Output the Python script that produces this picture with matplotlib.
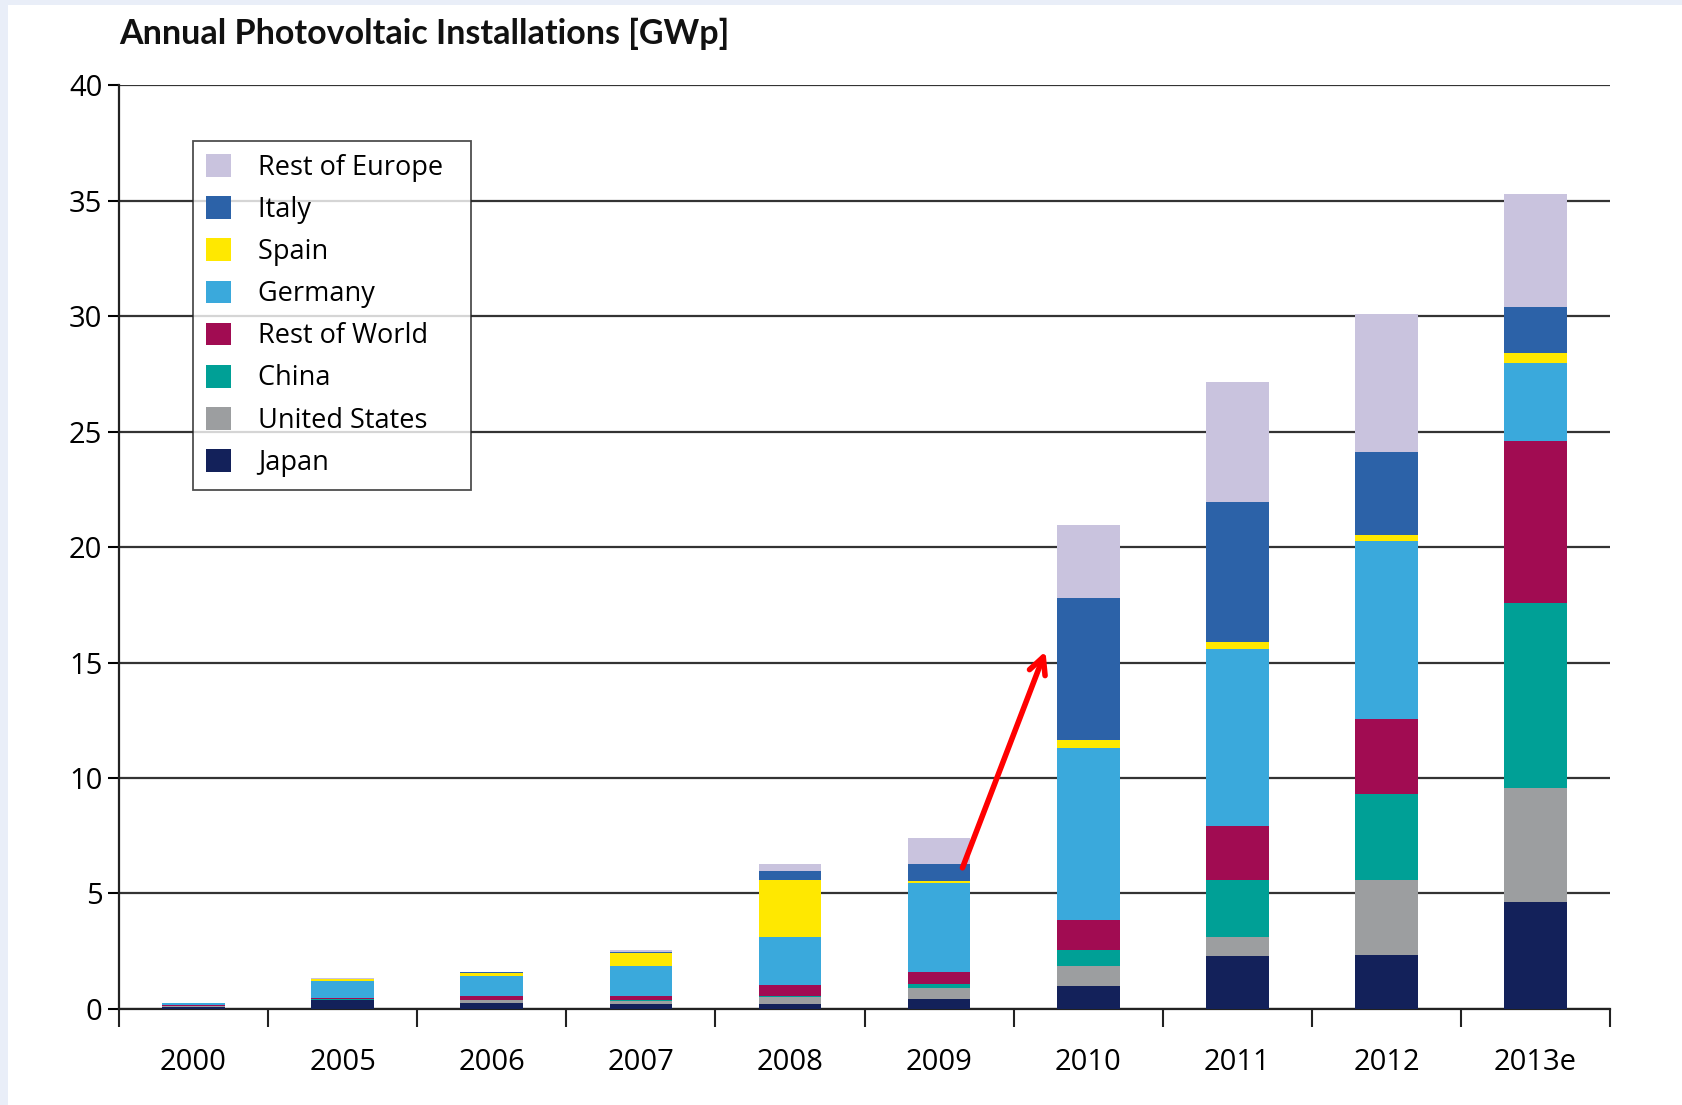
import numpy as np
import matplotlib
matplotlib.use("Agg")
import matplotlib.pyplot as plt
from matplotlib.patches import Rectangle, Patch

plt.rcParams['font.family'] = ['Open Sans', 'DejaVu Sans']

years = ['2000', '2005', '2006', '2007', '2008', '2009', '2010', '2011', '2012', '2013e']

# stacking order bottom -> top, values in GWp
series = ['Japan', 'United States', 'China', 'Rest of World', 'Germany', 'Spain', 'Italy', 'Rest of Europe']
japan = [0.10, 0.39, 0.25, 0.20, 0.20, 0.44, 1.00, 2.30, 2.32, 4.64]
us = [0.02, 0.02, 0.12, 0.16, 0.30, 0.45, 0.86, 0.80, 3.25, 4.93]
china = [0.01, 0.01, 0.01, 0.02, 0.07, 0.19, 0.69, 2.47, 3.72, 7.99]
row = [0.05, 0.05, 0.20, 0.19, 0.46, 0.50, 1.31, 2.37, 3.25, 7.04]
germany = [0.10, 0.72, 0.83, 1.27, 2.10, 3.88, 7.43, 7.66, 7.71, 3.36]
spain = [0.00, 0.10, 0.16, 0.57, 2.47, 0.07, 0.37, 0.30, 0.25, 0.44]
italy = [0.00, 0.00, 0.01, 0.05, 0.36, 0.76, 6.13, 6.04, 3.60, 2.00]
rest_europe = [0.00, 0.03, 0.02, 0.10, 0.30, 1.11, 3.16, 5.20, 6.00, 4.90]

colors = ['#13215a', '#9c9ea0', '#00a096', '#a10c52', '#3aa9dc', '#ffe800', '#2c62a8', '#c9c3de']

# red arrow from the 2009 bar towards the 2010 bar (x in bar index, y in GWp)
arrow_start = (5.15, 6.0)
arrow_end = (5.72, 15.6)

fig = plt.figure(figsize=(16.83, 11.05), dpi=100)
fig.patch.set_facecolor('#e9eef8')
fig.patches.append(Rectangle((8 / 1683, 0), 1, 1 - 5 / 1105, transform=fig.transFigure,
                             facecolor='white', edgecolor='none', zorder=-5))

ax = fig.add_axes([0.0707, 0.0869, 0.886, 0.8361])
ax.set_facecolor('none')

data = [japan, us, china, row, germany, spain, italy, rest_europe]
x = np.arange(len(years))
bottom = np.zeros(len(years))
for name, vals, c in zip(series, data, colors):
    ax.bar(x, vals, width=0.42, bottom=bottom, color=c, label=name, zorder=3, linewidth=0)
    bottom += np.array(vals)

ax.set_xlim(-0.5, len(years) - 0.5)
ax.set_ylim(0, 40)
ax.set_yticks(np.arange(0, 41, 5))
ax.yaxis.grid(True, color='#333333', linewidth=1.6, zorder=1)
ax.set_axisbelow(True)

ax.set_xticks(x)
ax.set_xticklabels(years, fontsize=21)
ax.tick_params(axis='x', which='major', length=0, pad=28)
ax.set_xticks(np.arange(-0.5, len(years)), minor=True)
ax.tick_params(axis='x', which='minor', length=13, width=1.5, color='#222222')
ax.tick_params(axis='y', length=8, width=1.5, labelsize=21, pad=4)

for s in ['top', 'right']:
    ax.spines[s].set_visible(False)
for s in ['left', 'bottom']:
    ax.spines[s].set_linewidth(1.6)
    ax.spines[s].set_color('#222222')

handles = [Patch(facecolor=c, edgecolor='none') for c in colors][::-1]
labels = [s + '  ' for s in series[::-1]]
leg = ax.legend(handles, labels, loc='upper left', bbox_to_anchor=(0.0496, 0.94),
                fontsize=19.5, frameon=True, fancybox=False, edgecolor='#222222',
                handlelength=0.92, handleheight=0.92, handletextpad=1.0,
                labelspacing=0.52, borderpad=0.5, borderaxespad=0)
leg.get_frame().set_linewidth(1.3)
leg.set_zorder(5)

ax.annotate('', xy=arrow_end, xytext=arrow_start,
            arrowprops=dict(arrowstyle='->', color='#ff0000', lw=4, mutation_scale=30),
            zorder=6)

fig.text(0.0707, 0.969, 'Annual Photovoltaic Installations [GWp]', fontsize=24.5,
         fontweight='bold', ha='left', va='center',
         family=['Lato', 'DejaVu Sans'], color='#111111')

fig.savefig('out.png', dpi=100, facecolor=fig.get_facecolor())
